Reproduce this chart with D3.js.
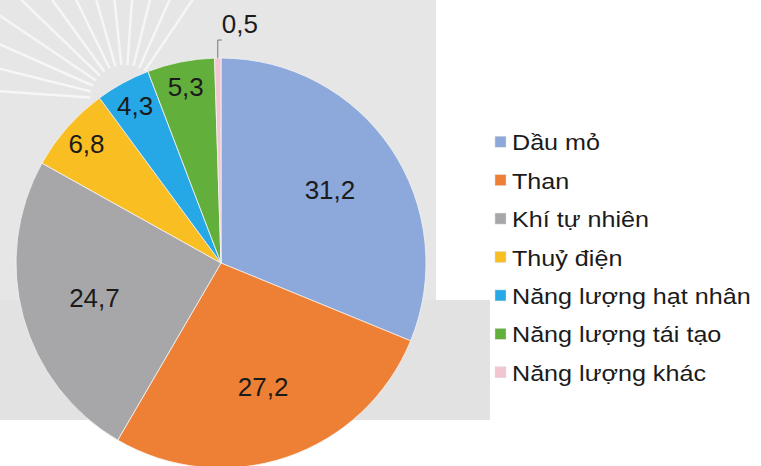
<!DOCTYPE html>
<html>
<head>
<meta charset="utf-8">
<script src="https://cdn.jsdelivr.net/npm/d3@7"></script>
<style>
  body { margin: 0; background: #fff; }
  svg { display: block; font-family: "Liberation Sans", Arial, sans-serif; }
</style>
</head>
<body>
<svg id="chart" width="761" height="466"></svg>
<script>
// co cau tieu thu nang luong (%)
const categories = ["Dầu mỏ", "Than", "Khí tự nhiên", "Thuỷ điện",
                    "Năng lượng hạt nhân", "Năng lượng tái tạo", "Năng lượng khác"];
const values = [31.2, 27.2, 24.7, 6.8, 4.3, 5.3, 0.5];
const colors = ["#8DA8DA", "#EE8035", "#A7A7A9", "#F8BE22", "#26A8E6", "#63AF3C", "#F2C6D0"];

const svg = d3.select("#chart");
const cx = 221, cy = 263, R = 205;
const stretch = 1.17; // legend text in the picture is a bit wide

// light background behind the pie
svg.append("rect")
    .attr("x", 0).attr("y", 0).attr("width", 436).attr("height", 300)
    .attr("fill", "#e7e6e6");
svg.append("rect")
    .attr("x", 0).attr("y", 300).attr("width", 490).attr("height", 120)
    .attr("fill", "#e3e2e2");

const rays = svg.append("g").attr("stroke", "#fafafa").attr("stroke-width", 2.5).attr("opacity", 0.8);
d3.range(-176, -55, 10).forEach(a => {
    const t = a * Math.PI / 180;
    rays.append("line")
        .attr("x1", 125 + Math.cos(t) * 35).attr("y1", 100 + Math.sin(t) * 35)
        .attr("x2", 125 + Math.cos(t) * 220).attr("y2", 100 + Math.sin(t) * 220);
});

const pie = d3.pie().sort(null).value(d => d);
const arcs = pie(values);
const arc = d3.arc().innerRadius(0).outerRadius(R);

const g = svg.append("g").attr("transform", `translate(${cx},${cy})`);

g.selectAll("path.slice")
    .data(arcs)
    .join("path")
    .attr("class", "slice")
    .attr("d", arc)
    .attr("fill", (d, i) => colors[i])
    .attr("stroke", "#f4f4f4")
    .attr("stroke-width", 0.8);

// data labels
const fmt = v => String(v).replace(".", ",");
const labels = g.append("g")
    .attr("font-size", 26)
    .attr("fill", "#1b1b1b")
    .attr("text-anchor", "middle");

arcs.forEach((d, i) => {
    if (d.value < 1) return;
    const r = d.value > 10 ? R * 0.64 : R * 0.875;
    const inner = d3.arc().innerRadius(r).outerRadius(r);
    const [x, y] = inner.centroid(d);
    labels.append("text")
        .attr("x", x).attr("y", y + 9)
        .text(fmt(d.value));
});

// small slice label with leader line
const small = arcs[arcs.length - 1];
const ang = (small.startAngle + small.endAngle) / 2;
const px = Math.sin(ang) * R, py = -Math.cos(ang) * R;
g.append("path")
    .attr("d", `M${px},${py}V${py - 18}H${px + 4}`)
    .attr("fill", "none")
    .attr("stroke", "#777")
    .attr("stroke-width", 1);
labels.append("text")
    .attr("x", px + 4).attr("y", py - 25)
    .attr("text-anchor", "start")
    .text(fmt(small.value));

// legend
const y = d3.scaleBand().domain(categories).range([124, 393]).padding(0);
const legend = svg.append("g").attr("transform", "translate(495,0)");
const item = legend.selectAll("g")
    .data(categories)
    .join("g")
    .attr("transform", d => `translate(0,${y(d) + y.bandwidth() / 2})`);
item.append("rect")
    .attr("x", 0).attr("y", -7)
    .attr("width", 11).attr("height", 11)
    .attr("fill", (d, i) => colors[i])
    .attr("stroke", "#ddd").attr("stroke-width", 0.5);
item.append("text")
    .attr("transform", `translate(17,7) scale(${stretch},1)`)
    .attr("font-size", 21.5)
    .attr("fill", "#1b1b1b")
    .text(d => d);
</script>
</body>
</html>
